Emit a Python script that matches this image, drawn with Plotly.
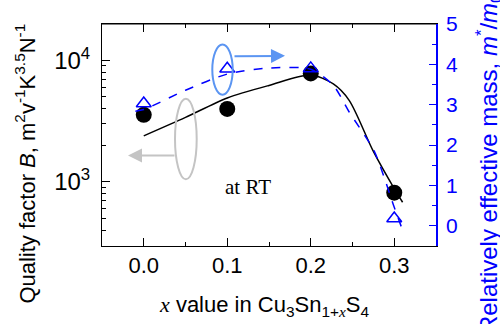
import plotly.graph_objects as go

# ---- data ----
x_pts = [0.0, 0.1, 0.2, 0.3]
B_pts = [3560, 3980, 7800, 815]          # quality factor B (left, log)
m_pts = [3.03, 3.89, 3.90, 0.18]         # relative effective mass (right)

fitB_x = [0.0, 0.05, 0.1, 0.15, 0.2, 0.227, 0.246, 0.275, 0.3, 0.31]
fitB_y = [2390, 3390, 4900, 6210, 7550, 6380, 4680, 1780, 880, 680]

fitM_x = [-0.01, 0.0, 0.05, 0.1, 0.15, 0.2, 0.227, 0.246, 0.276, 0.3, 0.31]
fitM_y = [2.84, 2.88, 3.36, 3.76, 3.91, 3.88, 3.48, 2.82, 1.85, 0.46, -0.11]

x_ticks = [0.0, 0.1, 0.2, 0.3]
y_major = [1000, 10000]
y_major_text = ["10<sup>3</sup>", "10<sup>4</sup>"]
y_minor = [300, 400, 500, 600, 700, 800, 900,
           2000, 3000, 4000, 5000, 6000, 7000, 8000, 9000]

BLUE = "#0000ff"
SANS = "Liberation Sans, Arial, sans-serif"
SERIF = "Liberation Serif, Times New Roman, serif"

fig = go.Figure()
fig.add_trace(go.Scatter(x=fitB_x, y=fitB_y, mode="lines",
                         line=dict(color="black", width=1.5, shape="spline", smoothing=0.8),
                         yaxis="y", showlegend=False, hoverinfo="skip"))
fig.add_trace(go.Scatter(x=x_pts, y=B_pts, mode="markers",
                         marker=dict(symbol="circle", size=16, color="black"),
                         yaxis="y", showlegend=False))
fig.add_trace(go.Scatter(x=fitM_x, y=fitM_y, mode="lines",
                         line=dict(color=BLUE, width=1.5, dash="dash", shape="spline", smoothing=0.7),
                         yaxis="y2", showlegend=False, hoverinfo="skip"))
fig.add_trace(go.Scatter(x=x_pts, y=m_pts, mode="markers",
                         marker=dict(symbol="triangle-up-open", size=13, color=BLUE, line=dict(width=1.5, color=BLUE)),
                         yaxis="y2", showlegend=False))

L, R, T, Bm = 102, 64, 21, 78
W, H = 500, 324
pw, ph = W - L - R, H - T - Bm


def px(xp):
    return (xp - L) / pw


def py(yp):
    return (H - Bm - yp) / ph


fig.update_layout(
    width=W, height=H,
    margin=dict(l=L, r=R, t=T, b=Bm, pad=0),
    paper_bgcolor="white", plot_bgcolor="white",
    font=dict(family=SANS, color="black"),
    xaxis=dict(range=[-0.05, 0.35], tickvals=x_ticks, ticktext=[f"{v:.1f}" for v in x_ticks],
               ticks="inside", ticklen=8, tickwidth=1, tickcolor="black",
               showline=True, linecolor="black", linewidth=1, mirror="ticks",
               showgrid=False, zeroline=False, tickfont=dict(size=22, family=SANS),
               minor=dict(tickvals=[-0.05, 0.05, 0.15, 0.25, 0.35], ticks="inside", ticklen=4,
                          tickcolor="black", showgrid=False)),
    yaxis=dict(type="log", range=[2.473, 4.298], tickvals=y_major, ticktext=y_major_text,
               ticks="inside", ticklen=8, tickcolor="black",
               showline=True, linecolor="black", linewidth=1, mirror=False,
               showgrid=False, zeroline=False, tickfont=dict(size=24, family=SANS),
               ticklabelstandoff=6,
               minor=dict(tickvals=y_minor, ticks="inside", ticklen=4, tickcolor="black", showgrid=False)),
    yaxis2=dict(overlaying="y", side="right", range=[-0.5, 5], tickvals=[0, 1, 2, 3, 4, 5],
                ticks="inside", ticklen=7, tickcolor=BLUE,
                showline=True, linecolor=BLUE, linewidth=1.5,
                showgrid=False, zeroline=False, tickfont=dict(size=21, family=SANS, color=BLUE),
                ticklabelstandoff=4,
                minor=dict(tickvals=[-0.5, 0.5, 1.5, 2.5, 3.5, 4.5], ticks="inside", ticklen=4,
                           tickcolor=BLUE, showgrid=False)),
)

# top border line (black)
fig.add_shape(type="line", xref="paper", yref="paper", x0=0, x1=1, y0=1, y1=1,
              line=dict(color="black", width=1))

# ellipses
fig.add_shape(type="circle", xref="paper", yref="paper",
              x0=px(175), x1=px(196.7), y0=py(178.3), y1=py(96.7),
              line=dict(color="#c4c4c4", width=2))
fig.add_shape(type="circle", xref="paper", yref="paper",
              x0=px(212.3), x1=px(232.7), y0=py(92.7), y1=py(41.7),
              line=dict(color="#5b95f2", width=2))

# arrows (tail offsets in pixels)
fig.add_annotation(xref="paper", yref="paper", x=px(128), y=py(154.3),
                   ax=48, ay=0, axref="pixel", ayref="pixel",
                   showarrow=True, arrowhead=2, arrowsize=1.4, arrowwidth=2, arrowcolor="#c4c4c4", text="")
fig.add_annotation(xref="paper", yref="paper", x=px(285), y=py(53.3),
                   ax=-52, ay=0.5, axref="pixel", ayref="pixel",
                   showarrow=True, arrowhead=2, arrowsize=1.4, arrowwidth=2, arrowcolor="#5b95f2", text="")

# at RT
fig.add_annotation(xref="paper", yref="paper", x=px(248.3), y=py(186.7), text="at RT",
                   showarrow=False, font=dict(family=SERIF, size=21, color="black"),
                   xanchor="center", yanchor="middle")

# axis titles
fig.add_annotation(xref="paper", yref="paper", x=px(25), y=py(162.5),
                   text="Quality factor <i>B</i>, m<sup>2</sup>v<sup>-1</sup>K<sup>3.5</sup>N<sup>-1</sup>",
                   textangle=-90, showarrow=False, font=dict(family=SANS, size=22, color="black"),
                   xanchor="center", yanchor="middle")
fig.add_annotation(xref="paper", yref="paper", x=px(489), y=py(162),
                   text="Relatively effective mass, <i>m</i><sup>*</sup>/<i>m</i><sub>0</sub>",
                   textangle=-90, showarrow=False, font=dict(family=SANS, size=24, color=BLUE),
                   xanchor="center", yanchor="middle")
fig.add_annotation(xref="paper", yref="paper", x=px(264), y=py(307),
                   text="<span style='font-family:Liberation Serif'><i>x</i></span> value in Cu<sub>3</sub>Sn<sub>1+<span style='font-family:Liberation Serif'><i>x</i></span></sub>S<sub>4</sub>",
                   showarrow=False, font=dict(family=SANS, size=22, color="black"),
                   xanchor="center", yanchor="middle")

fig.write_html("out.html")
